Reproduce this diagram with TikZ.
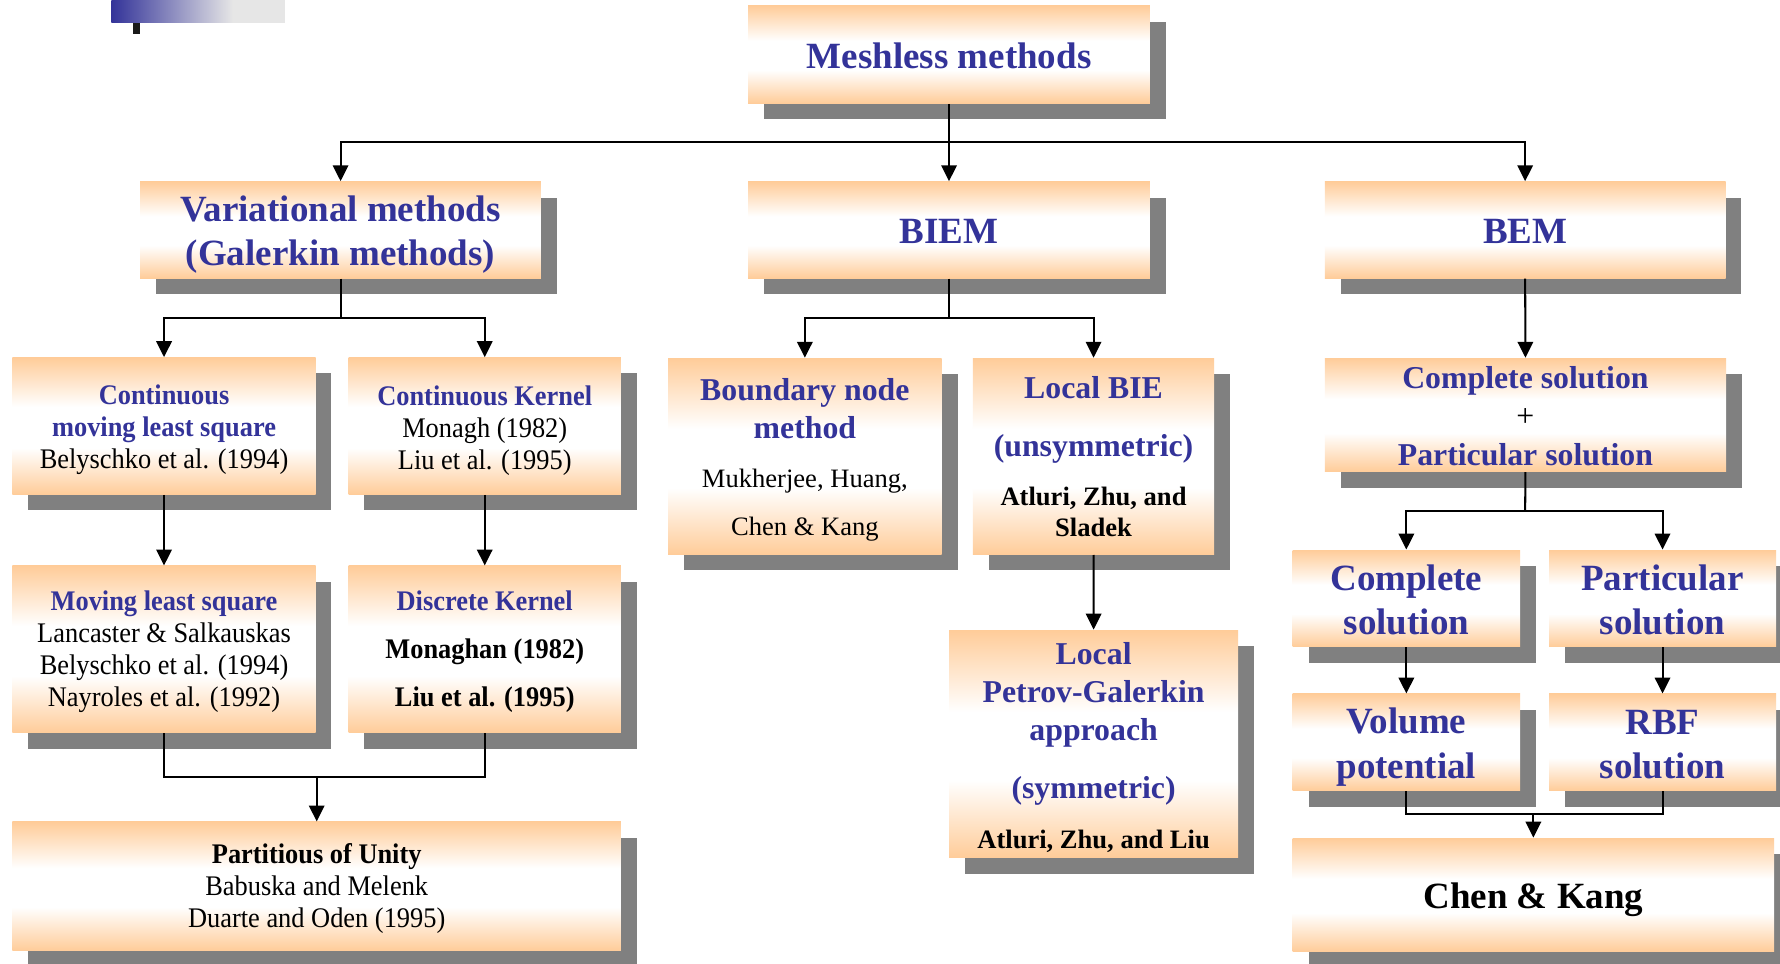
\documentclass[tikz,border=0pt]{standalone}
\usepackage{fontspec}
\setmainfont{Liberation Serif}
\newfontfamily\narrowserif[FakeStretch=0.93]{Liberation Serif}
\usetikzlibrary{arrows.meta,shadows}

\definecolor{titleblue}{RGB}{51,51,153}
\definecolor{peach}{RGB}{255,204,153}
\definecolor{shadowgray}{RGB}{128,128,128}
\definecolor{barblue}{RGB}{51,51,153}
\definecolor{bargray}{RGB}{230,230,230}
\definecolor{tickblack}{RGB}{26,26,26}

% peach - white - peach band used to fill every box
\pgfdeclareverticalshading{boxshade}{100bp}{color(0bp)=(peach); color(25bp)=(peach); color(42bp)=(white); color(57bp)=(white); color(75bp)=(peach); color(100bp)=(peach)}
% blue to grey bar in the upper left corner
\pgfdeclarehorizontalshading{barshade}{100bp}{color(0bp)=(barblue); color(25bp)=(barblue); color(60bp)=(bargray); color(100bp)=(bargray)}

\newcommand\fsbig{\fontsize{16.3pt}{19.5pt}\selectfont}
\newcommand\fsmid[1]{\fontsize{14pt}{#1}\selectfont}
\newcommand\fssmall{\fontsize{11.7pt}{13.8pt}\selectfont}
\newcommand\fsleft[1]{\narrowserif\fontsize{12.5pt}{#1}\selectfont}
\newcommand\bluebf[1]{\textcolor{titleblue}{\bfseries #1}}
% invisible strut on a first line: raises the top of the text block,
% which lowers the centred text by half the given amount
\newcommand\txtdown[1]{\rule{0pt}{\dimexpr 0.7em+#1\relax}}

\tikzset{
  box/.style={shading=boxshade, draw=none, inner sep=0pt, align=center,
    general shadow={fill=shadowgray, shadow xshift=7pt, shadow yshift=-7pt}},
  link/.style={line width=0.9pt, black},
  arr/.style={link, -{Triangle[width=6.8pt,length=7pt]}},
}

\begin{document}
\begin{tikzpicture}[x=0.5pt,y=-0.5pt]
\useasboundingbox (0,0) rectangle (1568,849);
\fill[white] (0,0) rectangle (1568,849);

% corner bar
\shade[shading=barshade] (98,0) rectangle (251,20);
\fill[tickblack] (117,20) rectangle (123,30);

% level 0 and 1
\node[box, minimum width=177pt, minimum height=43pt, font=\fsbig] (meshless) at (836,48) {\txtdown{1pt}\bluebf{Meshless methods}};
\node[box, minimum width=176.5pt, minimum height=42.5pt, font=\fsbig] (variational) at (300,202.5) {\txtdown{4pt}\bluebf{Variational methods}\\\bluebf{(Galerkin methods)}};
\node[box, minimum width=177pt, minimum height=42.5pt, font=\fsbig] (biem) at (836,202.5) {\txtdown{1pt}\bluebf{BIEM}};
\node[box, minimum width=176.5pt, minimum height=42.5pt, font=\fsbig] (bem) at (1343.5,202.5) {\txtdown{1pt}\bluebf{BEM}};

% variational branch
\node[box, minimum width=133.5pt, minimum height=60.25pt, font=\fsleft{14.2pt}] (cmls) at (144.5,375.25)
  {\txtdown{3pt}\bluebf{Continuous}\\\bluebf{moving least square}\\Belyschko et al. (1994)};
\node[box, minimum width=120pt, minimum height=60.25pt, font=\fsleft{14.2pt}] (ckern) at (427,375.25)
  {\txtdown{4pt}\bluebf{Continuous Kernel}\\Monagh (1982)\\Liu et al. (1995)};
\node[box, minimum width=133.5pt, minimum height=73.5pt, font=\fsleft{14pt}] (mls) at (144.5,572)
  {\txtdown{2pt}\bluebf{Moving least square}\\Lancaster \& Salkauskas\\Belyschko et al. (1994)\\Nayroles et al. (1992)};
\node[box, minimum width=120pt, minimum height=73.5pt, font=\fsleft{21pt}] (dkern) at (427,572)
  {\txtdown{2pt}\bluebf{Discrete Kernel}\\\textbf{Monaghan (1982)}\\\textbf{Liu et al. (1995)}};
\node[box, minimum width=268pt, minimum height=56.75pt, font=\fsleft{14pt}] (pou) at (279,780.75)
  {\txtdown{2pt}\textbf{Partitious of Unity}\\Babuska and Melenk\\Duarte and Oden (1995)};

% BIEM branch
\node[box, minimum width=120.5pt, minimum height=86.5pt, font=\fsmid{16.5pt}] (bnm) at (709,402)
  {\txtdown{3pt}\bluebf{Boundary node}\\\bluebf{method}\\[5.2pt]{\fssmall Mukherjee, Huang,}\\[4.7pt]{\fssmall Chen \& Kang}};
\node[box, minimum width=106.3pt, minimum height=86.5pt, font=\fsmid{13.8pt}] (lbie) at (963.3,402)
  {\txtdown{0pt}\bluebf{Local BIE}\\[11.65pt]\bluebf{(unsymmetric)}\\[7.75pt]{\fssmall\bfseries Atluri, Zhu, and}\\{\fssmall\bfseries Sladek}};
\node[box, minimum width=127.35pt, minimum height=100.25pt, font=\fsmid{16.9pt}] (lpg) at (963.35,655.25)
  {\txtdown{3pt}\bluebf{Local}\\\bluebf{Petrov-Galerkin}\\\bluebf{approach}\\[8.45pt]\bluebf{(symmetric)}\\[5.1pt]{\fssmall\bfseries Atluri, Zhu, and Liu}};

% BEM branch
\node[box, minimum width=176.75pt, minimum height=50pt, font=\fsmid{16.9pt}] (cps) at (1343.75,365.5)
  {\txtdown{1pt}\bluebf{Complete solution}\\+\\\bluebf{Particular solution}};
\node[box, minimum width=100.15pt, minimum height=42.6pt, font=\fsbig] (csol) at (1238.85,527.1) {\txtdown{1pt}\bluebf{Complete}\\\bluebf{solution}};
\node[box, minimum width=100pt, minimum height=42.6pt, font=\fsbig] (psol) at (1464.5,527.1) {\txtdown{1pt}\bluebf{Particular}\\\bluebf{solution}};
\node[box, minimum width=100.15pt, minimum height=42.6pt, font=\fsbig] (vpot) at (1238.85,653.9) {\txtdown{4pt}\bluebf{Volume}\\\bluebf{potential}};
\node[box, minimum width=100pt, minimum height=42.6pt, font=\fsbig] (rbf) at (1464.5,653.9) {\txtdown{1pt}\bluebf{RBF}\\\bluebf{solution}};
\node[box, minimum width=212pt, minimum height=50pt, font=\fsbig] (ck) at (1350.75,788.25) {\txtdown{4pt}\textbf{Chen \& Kang}};

% junction points
\coordinate (s0) at (836,125);
\coordinate (s1) at (300,280);
\coordinate (s2) at (836,280);
\coordinate (s3) at (1343.5,450);
\coordinate (m0) at (279,684.5);
\coordinate (m1) at (1350.75,717);

% connectors
\draw[arr] (meshless.south) -- (biem.north);
\draw[arr] (s0) -| (variational.north);
\draw[arr] (s0) -| (bem.north);

\draw[link] (variational.south) -- (s1);
\draw[arr] (s1) -| (cmls.north);
\draw[arr] (s1) -| (ckern.north);
\draw[arr] (cmls.south) -- (mls.north);
\draw[arr] (ckern.south) -- (dkern.north);
\draw[link] (mls.south) |- (m0);
\draw[link] (dkern.south) |- (m0);
\draw[arr] (m0) -- (pou.north);

\draw[link] (biem.south) -- (s2);
\draw[arr] (s2) -| (bnm.north);
\draw[arr] (s2) -| (lbie.north);
\draw[arr] (lbie.south) -- (lpg.north);

\draw[arr] (bem.south) -- (cps.north);
\draw[link] (cps.south) -- (s3);
\draw[arr] (s3) -| (csol.north);
\draw[arr] (s3) -| (psol.north);
\draw[arr] (csol.south) -- (vpot.north);
\draw[arr] (psol.south) -- (rbf.north);
\draw[link] (vpot.south) |- (m1);
\draw[link] (rbf.south) |- (m1);
\draw[arr] (m1) -- (ck.north);
\end{tikzpicture}
\end{document}
